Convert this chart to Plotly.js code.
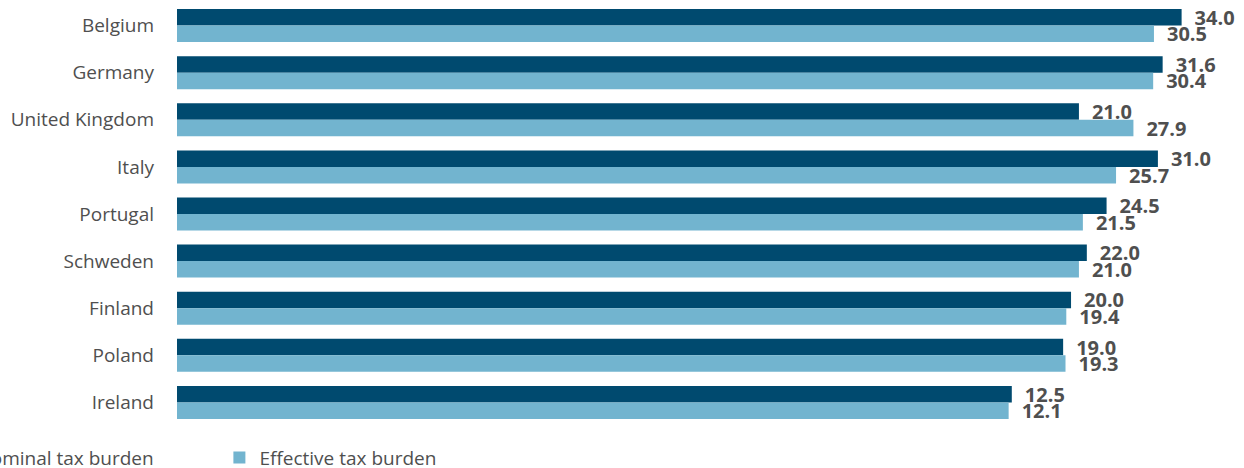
<!DOCTYPE html>
<html>
<head>
<meta charset="utf-8">
<script src="https://cdn.plot.ly/plotly-3.0.1.min.js"></script>
<style>html,body{margin:0;padding:0;background:#fff;}#chart{width:1244px;height:468px;}</style>
</head>
<body>
<div id="chart"></div>
<script>
// Data
const countries = ["Belgium", "Germany", "United Kingdom", "Italy", "Portugal", "Schweden", "Finland", "Poland", "Ireland"];
const nominal = [34.0, 31.6, 21.0, 31.0, 24.5, 22.0, 20.0, 19.0, 12.5];
const effective = [30.5, 30.4, 27.9, 25.7, 21.5, 21.0, 19.4, 19.3, 12.1];
const seriesNames = ["Nominal tax burden", "Effective tax burden"];

// Axis starts well below zero in the original; bars run from the axis start
const X_MIN = -93.2;
const X_MAX = 41.9;

const COLORS = ["#004a6f", "#72b4cf"];
const TEXT_COLOR = "#4f4f4f";

function makeTrace(values, name, color) {
  return {
    type: "bar",
    orientation: "h",
    name: name,
    y: countries,
    x: values.map(v => v - X_MIN),
    base: X_MIN,
    marker: { color: color },
    text: values.map(v => "\u2002" + v.toFixed(1)),
    texttemplate: "%{text}",
    textposition: "outside",
    constraintext: "none",
    cliponaxis: false,
    textfont: { family: "Open Sans", size: 20, color: TEXT_COLOR, weight: 700 },
    hoverinfo: "skip"
  };
}

const data = [
  makeTrace(nominal, seriesNames[0], COLORS[0]),
  makeTrace(effective, seriesNames[1], COLORS[1])
];

const layout = {
  width: 1244,
  height: 468,
  margin: { l: 177, r: 0, t: 2, b: 42, autoexpand: false },
  paper_bgcolor: "#ffffff",
  plot_bgcolor: "#ffffff",
  barmode: "group",
  bargap: 0.3,
  bargroupgap: 0,
  font: { family: "Open Sans", color: TEXT_COLOR },
  xaxis: {
    range: [X_MIN, X_MAX],
    visible: false,
    showgrid: false,
    zeroline: false,
    fixedrange: true
  },
  yaxis: {
    autorange: "reversed",
    showgrid: false,
    zeroline: false,
    showline: false,
    ticks: "",
    ticklabelstandoff: 22,
    tickfont: { family: "Open Sans", size: 19, color: TEXT_COLOR, weight: 500 },
    fixedrange: true
  },
  showlegend: true,
  legend: {
    orientation: "h",
    x: -0.2255,
    xanchor: "left",
    yref: "container",
    y: 0.022,
    yanchor: "middle",
    entrywidth: 238,
    font: { family: "Open Sans", size: 19, color: TEXT_COLOR, weight: 500 },
    bgcolor: "rgba(0,0,0,0)"
  }
};

Plotly.newPlot("chart", data, layout, { displayModeBar: false, staticPlot: true });
</script>
</body>
</html>
